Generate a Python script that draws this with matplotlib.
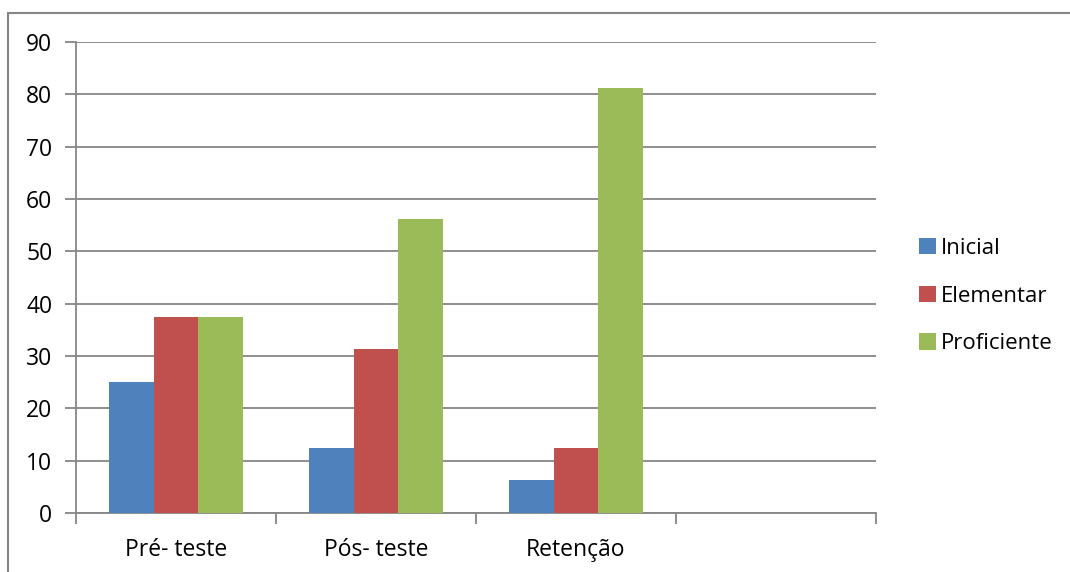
import numpy as np
import matplotlib.pyplot as plt
import matplotlib.patches as mpatches

categories = ['Pré- teste', 'Pós- teste', 'Retenção', '']
series_names = ['Inicial', 'Elementar', 'Proficiente']
inicial = [25, 12.5, 6.25]
elementar = [37.5, 31.25, 12.5]
proficiente = [37.5, 56.25, 81.25]
colors = ['#4f81bd', '#c0504d', '#9bbb59']

plt.rcParams['font.family'] = ['Open Sans', 'DejaVu Sans']

W, H = 1070, 572
fig = plt.figure(figsize=(W / 100, H / 100), dpi=100)
ax = fig.add_axes([76 / W, 1 - 513 / H, 800 / W, 471 / H])

# chart frame, cut off at the right and bottom edges
fig.patches.append(mpatches.Rectangle((7.5 / W, -0.1), 1.2, 1.1 - 12.5 / H,
                                      transform=fig.transFigure, fill=False,
                                      edgecolor='#868686', linewidth=1.5))

bw = 0.222
x = np.arange(len(inicial)) + 0.5
for k, (vals, name) in enumerate(zip([inicial, elementar, proficiente], series_names)):
    ax.bar(x + (k - 1) * bw, vals, width=bw, color=colors[k], label=name, zorder=3)

ax.set_xlim(0, 4)
ax.set_ylim(0, 90)
ax.set_yticks(np.arange(0, 91, 10))
ax.yaxis.grid(True, color='#868686', linewidth=1.3, zorder=0)
ax.set_xticks(np.arange(0, 5))
ax.set_xticklabels([])
ax.set_xticks(np.arange(len(categories)) + 0.5, minor=True)
ax.set_xticklabels(categories, minor=True)
ax.tick_params(axis='x', which='minor', length=0, pad=18, labelsize=16.5)
ax.tick_params(axis='x', which='major', length=8, width=1.3, color='#868686', direction='out')
ax.tick_params(axis='y', length=8, width=1.3, color='#868686', labelsize=16.5, pad=9)

for side in ['top', 'right']:
    ax.spines[side].set_visible(False)
for side in ['left', 'bottom']:
    ax.spines[side].set_color('#868686')
    ax.spines[side].set_linewidth(1.3)

fig.legend(loc='center left', bbox_to_anchor=(899 / W, 1 - 296 / H), frameon=False,
           fontsize=16, handlelength=0.75, handleheight=0.75, handletextpad=0.25,
           labelspacing=1.2)

fig.savefig('out.png', dpi=100)
